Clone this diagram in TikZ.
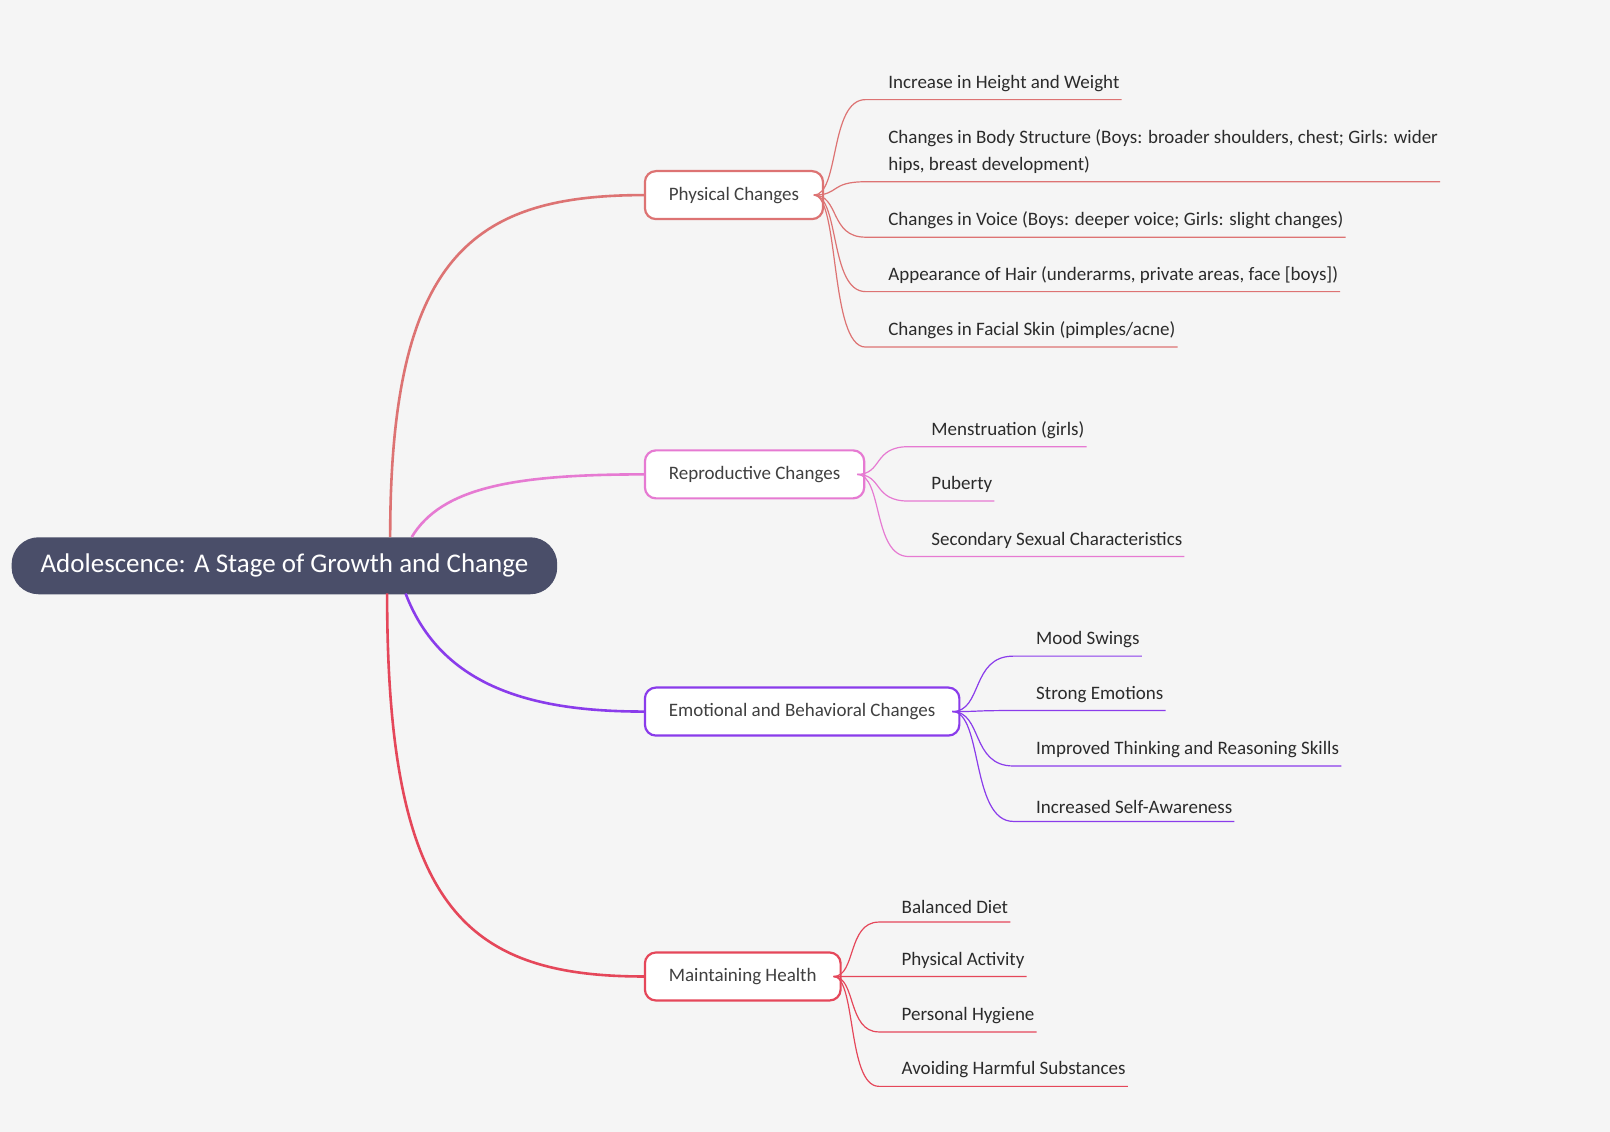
\documentclass[tikz,border=0pt]{standalone}
\usepackage{fontspec}
\setmainfont{Carlito}
\usetikzlibrary{calc}
\definecolor{bgc}{HTML}{F5F5F5}
\definecolor{rootc}{HTML}{4A4E69}
\definecolor{physc}{HTML}{DD7373}
\definecolor{reprc}{HTML}{E67AD2}
\definecolor{emotc}{HTML}{8A3CEB}
\definecolor{healc}{HTML}{E5475A}
\definecolor{txtc}{HTML}{2B2B2B}
\tikzset{
  rootbox/.style={fill=rootc, rounded corners=27pt, minimum height=57pt, text=white,
    font=\fontsize{27}{30}\selectfont, inner xsep=29pt},
  topic/.style={draw=#1, line width=2.2pt, fill=white, rounded corners=11pt, minimum height=48pt,
    text=txtc!90, font=\fontsize{19}{22}\selectfont, inner xsep=24pt, anchor=west},
  leaf/.style={anchor=south west, inner xsep=2pt, inner ysep=8pt, text=txtc, align=left,
    font=\fontsize{19}{27}\selectfont},
  limb/.style={#1, line width=2.6pt},
  twig/.style={#1, line width=1.2pt}
}
\newcommand{\twig}[4]{% colour, from, coordinate, leaf
  \draw[twig=#1] (#2) .. controls ($(#2)!0.5!(#3|-#2)$) and ($(#2|-#3)!0.3!(#3)$) .. (#3) -- (#4.south west) -- (#4.south east);}
\begin{document}
\begin{tikzpicture}[x=1.027pt, y=-1.027pt]
  \fill[bgc] (0,0) rectangle (1568,1102);
  \useasboundingbox (0,0) rectangle (1568,1102);

  % main branches
  \node[rootbox] (root) at (277,551) {Adolescence: A Stage of Growth and Change};
  \node[topic=physc] (pc) at (627,190) {Physical Changes};
  \node[topic=reprc] (rc) at (627,462) {Reproductive Changes};
  \node[topic=emotc] (ec) at (627,693) {Emotional and Behavioral Changes};
  \node[topic=healc] (mh) at (627,951) {Maintaining Health};

  \coordinate (r1) at (380,523);
  \coordinate (r2) at (401,523);
  \coordinate (r3) at (395,578);
  \coordinate (r4) at (377,578);
  \draw[limb=physc] (r1) .. controls (380,250) and (460,190) .. (pc.west);
  \draw[limb=reprc] (r2) .. controls (430,475) and (500,462) .. (rc.west);
  \draw[limb=emotc] (r3) .. controls (430,670) and (520,693) .. (ec.west);
  \draw[limb=healc] (r4) .. controls (377,880) and (450,951) .. (mh.west);

  % physical
  \node[leaf] (p1) at (863,97) {Increase in Height and Weight};
  \node[leaf] (p2) at (863,177) {Changes in Body Structure (Boys: broader shoulders, chest; Girls: wider\\hips, breast development)\hspace{30pt}};
  \node[leaf] (p3) at (863,231) {Changes in Voice (Boys: deeper voice; Girls: slight changes)};
  \node[leaf] (p4) at (863,284) {Appearance of Hair (underarms, private areas, face [boys])};
  \node[leaf] (p5) at (863,338) {Changes in Facial Skin (pimples/acne)};
  \coordinate (ps) at ($(pc.east)+(-10,0)$);
  \foreach \n/\y in {p1/97,p2/177,p3/231,p4/284,p5/338}{
    \coordinate (c\n) at (843,\y);
    \twig{physc}{ps}{c\n}{\n}
  }

  % reproductive
  \node[leaf] (q1) at (905,435) {Menstruation (girls)};
  \node[leaf] (q2) at (905,488) {Puberty};
  \node[leaf] (q3) at (905,542) {Secondary Sexual Characteristics};
  \coordinate (qs) at ($(rc.east)+(-8,0)$);
  \foreach \n/\y in {q1/435,q2/488,q3/542}{
    \coordinate (c\n) at (885,\y);
    \twig{reprc}{qs}{c\n}{\n}
  }

  % emotional
  \node[leaf] (e1) at (1007,639) {Mood Swings};
  \node[leaf] (e2) at (1007,692) {Strong Emotions};
  \node[leaf] (e3) at (1007,746) {Improved Thinking and Reasoning Skills};
  \node[leaf] (e4) at (1007,800) {Increased Self-Awareness};
  \coordinate (es) at ($(ec.east)+(-8,0)$);
  \foreach \n/\y in {e1/639,e2/692,e3/746,e4/800}{
    \coordinate (c\n) at (987,\y);
    \twig{emotc}{es}{c\n}{\n}
  }

  % health
  \node[leaf] (h1) at (876,898) {Balanced Diet};
  \node[leaf] (h2) at (876,951) {Physical Activity};
  \node[leaf] (h3) at (876,1005) {Personal Hygiene};
  \node[leaf] (h4) at (876,1058) {Avoiding Harmful Substances};
  \coordinate (hs) at ($(mh.east)+(-8,0)$);
  \foreach \n/\y in {h1/898,h2/951,h3/1005,h4/1058}{
    \coordinate (c\n) at (856,\y);
    \twig{healc}{hs}{c\n}{\n}
  }
\end{tikzpicture}
\end{document}
